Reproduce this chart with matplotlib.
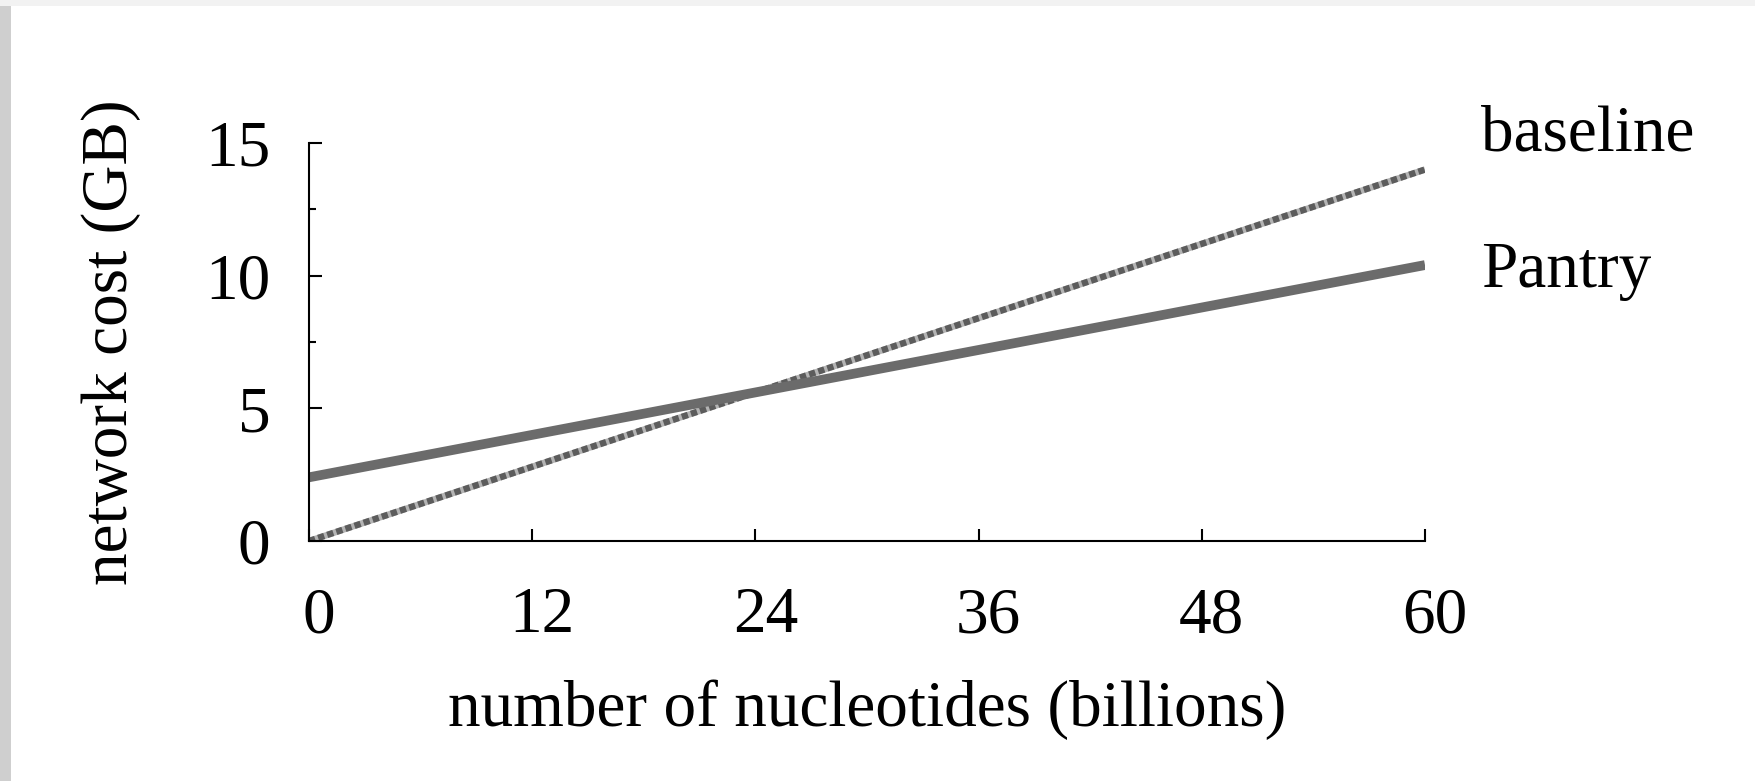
import numpy as np
import matplotlib
matplotlib.use('Agg')
import matplotlib.pyplot as plt
from matplotlib.patches import Rectangle
import matplotlib.transforms as mtrans

plt.rcParams['font.family'] = ['Liberation Serif', 'DejaVu Serif']

# data
nucleotides = [0, 60]          # billions
baseline = [0.0, 14.0]         # GB
pantry = [2.4, 10.4]           # GB
xticks = [0, 12, 24, 36, 48, 60]
yticks = [0, 5, 10, 15]
yminor = [2.5, 7.5, 12.5]

line_col = '#6b6b6b'
fs = 47

fig = plt.figure(figsize=(17.56, 7.81), dpi=100)
fig.patch.set_facecolor('white')
# thin grey frame of the screenshot (left and top)
fig.patches.append(Rectangle((0, 0), 11/1756, 1, transform=fig.transFigure,
                             facecolor='#cfcfcf', edgecolor='none', zorder=0))
fig.patches.append(Rectangle((0, 1 - 6/781), 1, 6/781, transform=fig.transFigure,
                             facecolor='#f2f2f2', edgecolor='none', zorder=0))

ax = fig.add_axes([0.176, 0.3073, 0.6355, 0.5096])
# checkered baseline: light grey underlay with dark square dashes
ax.plot(nucleotides, baseline, color='#b4b4b4', lw=4.6, solid_capstyle='butt')
ax.plot(nucleotides, baseline, color='#5c5c5c', lw=4.6, ls=(0, (1.0, 0.5)),
        dash_capstyle='butt')
ax.plot(nucleotides, pantry, color=line_col, lw=7.0, solid_capstyle='butt')

ax.set_xlim(0, 60)
ax.set_ylim(0, 15)
for s in ['top', 'right']:
    ax.spines[s].set_visible(False)
for s in ['left', 'bottom']:
    ax.spines[s].set_linewidth(1.5)

ax.set_xticks(xticks)
ax.set_yticks(yticks)
ax.set_yticks(yminor, minor=True)
ax.tick_params(axis='both', which='major', direction='in', length=9, width=1.5,
               labelsize=fs)
ax.tick_params(axis='y', which='minor', direction='in', length=5, width=1.5)
ax.tick_params(axis='x', pad=33)
ax.tick_params(axis='y', pad=28)
off = mtrans.ScaledTranslation(10/100, 0, fig.dpi_scale_trans)
for lab in ax.get_xticklabels():
    lab.set_transform(lab.get_transform() + off)

ax.set_xlabel('number of nucleotides (billions)', fontsize=fs, labelpad=24)
ax.set_ylabel('network cost (GB)', fontsize=fs, labelpad=46)

ax.text(1.05, 15.3 / 15, 'baseline', transform=ax.transAxes, fontsize=fs,
        va='center', ha='left')
ax.text(1.05, 10.15 / 15, 'Pantry', transform=ax.transAxes, fontsize=fs,
        va='center', ha='left')

fig.savefig('out.png', dpi=100)
